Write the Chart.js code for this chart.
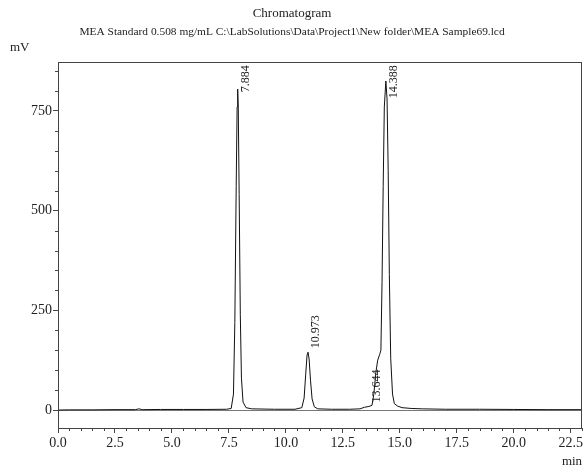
<!DOCTYPE html>
<html>
<head>
<meta charset="utf-8">
<title>Chromatogram</title>
<script src="https://cdn.jsdelivr.net/npm/chart.js@4.4.1/dist/chart.umd.min.js"></script>
<style>
    html, body { margin: 0; padding: 0; background: #fff; }
    #wrap { width: 585px; height: 470px; position: relative; }
</style>
</head>
<body>
<div id="wrap"><canvas id="chromChart"></canvas></div>
<script>
// --- Data ---
const retentionTimes = [0.0, 0.5, 1.5, 2.5, 3.4, 3.55, 3.7, 4.5, 5.5, 6.5, 7.4, 7.6, 7.7, 7.76, 7.82, 7.86, 7.884, 7.91, 7.95, 8.0, 8.05, 8.12, 8.25, 8.5,
    9.5, 10.4, 10.7, 10.8, 10.87, 10.93, 10.973, 11.02, 11.08, 11.15, 11.25, 11.4, 12.0, 12.8, 13.25, 13.45, 13.644, 13.78, 13.86, 13.95,
    14.03, 14.12, 14.17, 14.22, 14.27, 14.32, 14.388, 14.44, 14.49, 14.54, 14.6, 14.68, 14.76, 14.9, 15.1, 15.5, 16.0, 17.0, 18.5, 20.0, 21.5, 23.0];
const signalMv = [0, 0.5, 0.5, 1, 1, 3, 1, 1.5, 1.5, 1.5, 2, 4, 40, 220, 560, 760, 805, 760, 540, 240, 80, 20, 6, 3,
    2, 2, 6, 30, 90, 138, 145, 128, 75, 28, 8, 3, 2, 2, 3, 7, 9, 12, 40, 95,
    125, 140, 150, 320, 560, 760, 825, 780, 600, 340, 130, 40, 16, 10, 6, 4, 3, 2, 2, 1.5, 1, 1];

const peakTimes = [7.884, 10.973, 13.644, 14.388];
const peakHeights = [805, 145, 9, 825];
const peakLabels = ['7.884', '10.973', '13.644', '14.388'];

const xMajorTicks = [0, 2.5, 5, 7.5, 10, 12.5, 15, 17.5, 20, 22.5];
const xMinorStep = 0.5;
const yMajorTicks = [0, 250, 500, 750];
const yMinorStep = 50;

(function() {
    'use strict';

    const SERIF = '"Liberation Serif", "Times New Roman", serif';
    const INK = '#222';
    const LINE = '#444';

    // --- Helper: draws minor ticks, frame, zero line, units and peak labels ---
    const chromDecor = {
        id: 'chromDecor',
        beforeDatasetsDraw(chart) {
            const { ctx, chartArea: a, scales: { y } } = chart;
            ctx.save();
            ctx.strokeStyle = '#777';
            ctx.lineWidth = 1;
            const y0 = Math.round(y.getPixelForValue(0)) + 0.5;
            ctx.beginPath();
            ctx.moveTo(a.left, y0);
            ctx.lineTo(a.right, y0);
            ctx.stroke();
            ctx.restore();
        },
        afterDatasetsDraw(chart) {
            const { ctx, chartArea: a, scales: { x, y } } = chart;
            ctx.save();

            // frame
            ctx.strokeStyle = LINE;
            ctx.lineWidth = 1;
            ctx.strokeRect(Math.round(a.left) + 0.5, Math.round(a.top) + 0.5,
                Math.round(a.right - a.left) - 1, Math.round(a.bottom - a.top));

            // minor ticks on x
            ctx.beginPath();
            for (let v = x.min; v <= x.max + 1e-9; v += xMinorStep) {
                const t = Math.round(v * 10) / 10;
                if (xMajorTicks.includes(t)) continue;
                const px = Math.round(x.getPixelForValue(t)) + 0.5;
                ctx.moveTo(px, a.bottom);
                ctx.lineTo(px, a.bottom + 3);
            }
            // minor ticks on y
            for (let v = Math.ceil(y.min / yMinorStep) * yMinorStep; v <= y.max; v += yMinorStep) {
                if (yMajorTicks.includes(v)) continue;
                const py = Math.round(y.getPixelForValue(v)) + 0.5;
                ctx.moveTo(a.left, py);
                ctx.lineTo(a.left - 3, py);
            }
            ctx.stroke();

            // units
            ctx.fillStyle = INK;
            ctx.font = '13px ' + SERIF;
            ctx.textAlign = 'left';
            ctx.textBaseline = 'middle';
            ctx.fillText('mV', 10, 48);

            // peak retention-time labels, rotated
            ctx.font = '12px ' + SERIF;
            peakTimes.forEach((t, i) => {
                const px = x.getPixelForValue(t) + 8;
                const w = ctx.measureText(peakLabels[i]).width;
                let start = y.getPixelForValue(peakHeights[i]) - 4;
                if (start - w < a.top + 3) start = a.top + 3 + w;
                ctx.save();
                ctx.translate(px, start);
                ctx.rotate(-Math.PI / 2);
                ctx.textAlign = 'left';
                ctx.textBaseline = 'middle';
                ctx.fillText(peakLabels[i], 0, 0);
                ctx.restore();
            });
            ctx.restore();
        }
    };

    const points = retentionTimes.map((t, i) => ({ x: t, y: signalMv[i] }));

    new Chart(document.getElementById('chromChart'), {
        type: 'line',
        data: {
            datasets: [{
                data: points,
                borderColor: '#111',
                borderWidth: 1,
                pointRadius: 0,
                tension: 0,
                fill: false
            }]
        },
        options: {
            responsive: true,
            maintainAspectRatio: false,
            animation: false,
            layout: { padding: { left: 0, right: 1, top: 0, bottom: 0 } },
            plugins: {
                legend: { display: false },
                tooltip: { enabled: false },
                title: {
                    display: true,
                    text: 'Chromatogram',
                    color: INK,
                    font: { family: SERIF, size: 13, weight: 'normal' },
                    padding: { top: 6, bottom: 1 }
                },
                subtitle: {
                    display: true,
                    text: 'MEA Standard 0.508 mg/mL C:\\LabSolutions\\Data\\Project1\\New folder\\MEA Sample69.lcd',
                    color: INK,
                    font: { family: SERIF, size: 11.4 },
                    padding: { top: 3, bottom: 23 }
                }
            },
            scales: {
                x: {
                    type: 'linear',
                    min: 0,
                    max: 23,
                    afterFit: s => { s.height = 42; },
                    afterBuildTicks: s => { s.ticks = xMajorTicks.map(v => ({ value: v })); },
                    grid: { drawOnChartArea: false, tickLength: 5, color: LINE },
                    border: { color: LINE },
                    ticks: {
                        color: INK,
                        padding: 2,
                        maxRotation: 0,
                        font: { family: SERIF, size: 14 },
                        callback: v => v.toFixed(1)
                    },
                    title: {
                        display: true,
                        text: 'min',
                        align: 'end',
                        color: INK,
                        font: { family: SERIF, size: 13 },
                        padding: { top: 0, bottom: 1 }
                    }
                },
                y: {
                    type: 'linear',
                    min: -45,
                    max: 872,
                    afterFit: s => { s.width = 58; },
                    afterBuildTicks: s => { s.ticks = yMajorTicks.map(v => ({ value: v })); },
                    grid: { drawOnChartArea: false, tickLength: 5, color: LINE },
                    border: { color: LINE },
                    ticks: {
                        color: INK,
                        padding: 1,
                        font: { family: SERIF, size: 14 },
                        callback: v => String(v)
                    }
                }
            }
        },
        plugins: [chromDecor]
    });
})();
</script>
</body>
</html>
